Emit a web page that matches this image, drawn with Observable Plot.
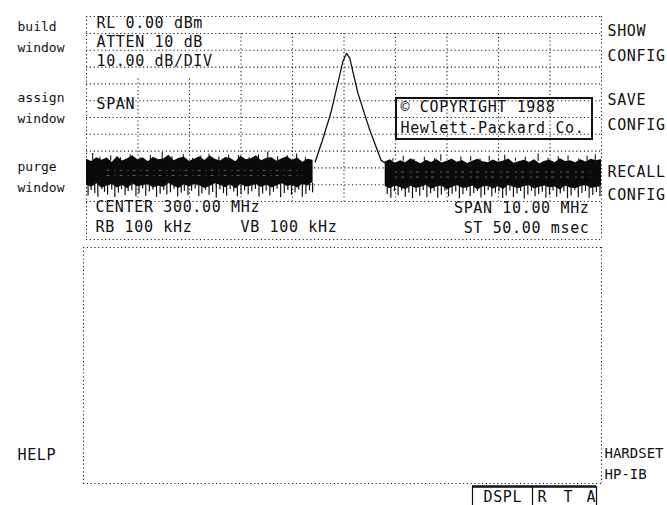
<!DOCTYPE html>
<html>
<head>
<meta charset="utf-8">
<script src="https://cdn.jsdelivr.net/npm/d3@7"></script>
<script src="https://cdn.jsdelivr.net/npm/@observablehq/plot@0.6"></script>
<style>
  html, body { margin: 0; padding: 0; background: #fff; }
  #chart { width: 667px; height: 505px; overflow: hidden; }
  #chart svg g[font-size="15"] text { letter-spacing: 0.65px; }
</style>
</head>
<body>
<div id="chart"></div>
<script>
// ---------------- instrument settings / graticule ----------------
const freqTicks  = [295, 296, 297, 298, 299, 300, 301, 302, 303, 304, 305];   // MHz (CENTER 300, SPAN 10)
const levelTicks = [0, -10, -20, -30, -40, -50, -60, -70, -80, -90, -100];      // dBm (RL 0, 10 dB/div)

// ---------------- signal response (MHz, dBm) ----------------
const peakFreq  = [299.44, 299.58, 299.74, 299.90, 299.98, 300.05, 300.11, 300.27, 300.50, 300.72, 300.80];
const peakLevel = [-76.5, -63.7, -47.8, -27.0, -16.5, -11.8, -14.5, -35.5, -57.5, -75.5, -77.0];

// ---------------- noise floor envelopes ----------------
const noiseLeftFreq = d3.range(295, 299.45, 0.1);
const noiseLeftTop = [-74.8,-76.2,-73.9,-75.5,-74.1,-76.8,-73.2,-75.9,-74.6,-72.8,
  -75.3,-74.0,-76.4,-73.6,-75.1,-74.7,-72.5,-75.8,-74.3,-73.7,
  -76.1,-74.9,-73.4,-75.6,-72.9,-74.8,-75.9,-73.8,-74.4,-76.3,
  -73.1,-75.2,-74.6,-72.7,-75.7,-74.2,-73.9,-76.0,-74.5,-73.3,
  -75.4,-74.1,-76.6,-74.8,-75.5];
const noiseLeftBottom = [-90.2,-91.5,-89.4,-92.1,-90.8,-89.7,-91.9,-90.3,-92.4,-89.6,
  -91.2,-90.5,-89.9,-92.0,-90.7,-91.6,-89.3,-90.9,-92.3,-90.1,
  -91.4,-89.8,-90.6,-92.2,-91.0,-89.5,-90.4,-91.8,-90.0,-92.5,
  -89.7,-91.3,-90.8,-89.9,-91.7,-90.2,-92.0,-90.6,-89.4,-91.1,
  -90.3,-91.9,-89.8,-90.7,-88.5];
const noiseRightFreq = d3.range(300.8, 305.05, 0.1);
const noiseRightTop = [-76.5,-75.2,-77.3,-75.8,-76.9,-74.6,-76.2,-77.6,-75.4,-76.8,
  -75.0,-77.1,-76.0,-74.9,-76.7,-75.6,-77.4,-76.1,-74.8,-76.4,
  -77.0,-75.3,-76.6,-75.9,-74.7,-77.2,-76.3,-75.5,-76.8,-75.1,
  -77.5,-76.0,-75.4,-76.9,-74.5,-76.2,-75.7,-77.0,-75.2,-76.5,
  -74.9,-75.8,-75.0];
const noiseRightBottom = [-91.0,-92.4,-90.6,-91.8,-93.0,-90.9,-92.2,-91.5,-90.3,-92.7,
  -91.3,-90.8,-92.9,-91.6,-90.5,-92.1,-91.9,-90.7,-93.1,-91.4,
  -90.9,-92.5,-91.2,-92.8,-90.4,-91.7,-92.3,-91.0,-90.6,-92.6,
  -91.5,-90.8,-92.0,-91.3,-93.2,-90.7,-91.9,-92.4,-91.1,-90.5,
  -92.2,-91.6,-91.0];

// downward noise spikes [MHz, dBm]
const spikeDownLeft = [
  [295.03,-96.8],[295.09,-93.5],[295.16,-95.2],[295.22,-97.4],[295.30,-92.8],[295.35,-94.6],[295.41,-96.1],[295.49,-93.2],
  [295.55,-97.8],[295.62,-95.0],[295.68,-92.9],[295.75,-96.5],[295.81,-94.1],[295.88,-93.6],[295.96,-97.1],[296.02,-95.4],
  [296.09,-92.6],[296.15,-96.9],[296.22,-94.3],[296.29,-93.1],[296.36,-97.6],[296.43,-95.7],[296.50,-93.4],[296.56,-96.2],
  [296.63,-94.8],[296.70,-92.7],[296.77,-97.3],[296.84,-95.1],[296.90,-93.9],[296.97,-96.6],[297.04,-94.0],[297.11,-92.5],
  [297.18,-97.0],[297.24,-95.6],[297.31,-93.3],[297.38,-96.3],[297.45,-94.7],[297.52,-97.9],[297.59,-93.0],[297.66,-95.3],
  [297.72,-96.8],[297.79,-92.9],[297.86,-94.4],[297.93,-97.2],[298.00,-95.8],[298.07,-93.7],[298.14,-96.0],[298.21,-94.2],
  [298.28,-92.8],[298.35,-97.5],[298.42,-95.5],[298.49,-93.8],[298.56,-96.7],[298.63,-94.5],[298.70,-92.6],[298.77,-97.7],
  [298.84,-95.2],[298.91,-93.5],[298.98,-96.4],[299.05,-94.9],[299.12,-93.1],[299.19,-97.4],[299.26,-95.9],[299.33,-93.6],
  [299.39,-94.8]];
const spikeDownRight = [
  [300.84,-95.9],[300.91,-98.1],[300.98,-94.2],[301.05,-96.6],[301.12,-93.8],[301.19,-97.5],[301.26,-95.0],[301.33,-98.3],
  [301.40,-94.6],[301.47,-96.9],[301.54,-93.5],[301.61,-97.8],[301.68,-95.4],[301.75,-94.0],[301.82,-98.0],[301.89,-96.2],
  [301.96,-93.9],[302.03,-97.2],[302.10,-95.7],[302.17,-94.3],[302.24,-98.4],[302.31,-96.0],[302.38,-93.7],[302.45,-97.0],
  [302.52,-95.3],[302.59,-94.1],[302.66,-97.9],[302.73,-96.4],[302.80,-93.6],[302.87,-97.3],[302.94,-95.1],[303.01,-94.4],
  [303.08,-98.2],[303.15,-96.7],[303.22,-93.8],[303.29,-97.6],[303.36,-95.5],[303.43,-94.0],[303.50,-98.5],[303.57,-96.1],
  [303.64,-93.9],[303.71,-97.1],[303.78,-95.8],[303.85,-94.5],[303.92,-98.0],[303.99,-96.3],[304.06,-93.7],[304.13,-97.4],
  [304.20,-95.6],[304.27,-94.2],[304.34,-98.3],[304.41,-96.8],[304.48,-93.6],[304.55,-97.7],[304.62,-95.2],[304.69,-94.1],
  [304.76,-98.1],[304.83,-96.5],[304.90,-94.7],[304.97,-97.2]];
// upward noise hairs [MHz, dBm]
const spikeUpLeft = [
  [295.12,-71.5],[295.26,-73.6],[295.47,-72.8],[295.66,-74.0],[295.85,-72.3],[296.04,-73.9],[296.24,-72.6],[296.47,-70.8],
  [296.66,-73.4],[296.88,-72.1],[297.06,-74.2],[297.22,-72.9],[297.38,-71.9],[297.57,-73.5],[297.76,-72.4],[297.95,-72.6],
  [298.16,-73.8],[298.34,-72.2],[298.52,-70.5],[298.71,-73.3],[298.90,-72.7],[299.08,-71.7],[299.25,-73.9]];
const spikeUpRight = [
  [300.95,-74.6],[301.15,-73.0],[301.36,-74.9],[301.56,-73.7],[301.76,-74.4],[301.88,-72.1],[302.08,-74.8],[302.27,-73.5],
  [302.46,-73.4],[302.64,-74.7],[302.82,-73.2],[303.00,-74.5],[303.12,-72.4],[303.33,-74.3],[303.52,-73.6],[303.77,-71.8],
  [303.96,-74.2],[304.16,-73.3],[304.35,-72.9],[304.56,-74.6],[304.72,-73.1],[304.88,-72.2]];

// ---------------- screen texts ----------------
const annotTopLeft     = ["RL 0.00 dBm", "ATTEN 10 dB", "10.00 dB/DIV"];
const annotSpan        = ["SPAN"];
const annotBottomLeft  = ["CENTER 300.00 MHz", "RB 100 kHz"];
const annotBottomMid   = ["VB 100 kHz"];
const annotBottomRight = ["SPAN 10.00 MHz", "ST 50.00 msec"];
const copyrightLines   = ["\u00A9 COPYRIGHT 1988", "Hewlett-Packard Co."];
const softkeysLeft     = ["build", "window", "assign", "window", "purge", "window"];
const softkeysRight    = ["SHOW", "CONFIG", "SAVE", "CONFIG", "RECALL", "CONFIG"];
const softkeyHelp      = ["HELP"];
const softkeyHardset   = ["HARDSET", "HP-IB"];
const statusCells      = ["DSPL", "R", "T", "A"];

// ---------------- layout helpers (screen pixel -> display units) ----------------
const X = d3.scaleLinear([86, 601], [295, 305]);
const Y = d3.scaleLinear([33, 201], [0, -100]);

const leftRowsPx   = [26, 47, 97, 118, 166, 187];
const rightRowsPx  = [31, 56, 100, 125, 172, 195];
const statusXPx    = [483, 537, 563, 586];

const ink = "#111";
const dot = {stroke: "#222", strokeWidth: 1.1, strokeDasharray: "1.2,2.6"};

const noiseLeft  = noiseLeftFreq.map((f, i) => ({f, hi: noiseLeftTop[i], lo: noiseLeftBottom[i]}));
const noiseRight = noiseRightFreq.map((f, i) => ({f, hi: noiseRightTop[i], lo: noiseRightBottom[i]}));
const spikesDown = spikeDownLeft.concat(spikeDownRight).map(([f, v]) => ({f, v}));
const spikesUp   = spikeUpLeft.concat(spikeUpRight).map(([f, v]) => ({f, v}));
const peak       = peakFreq.map((f, i) => ({f, v: peakLevel[i]}));

const plot = Plot.plot({
  width: 667,
  height: 505,
  margin: 0,
  x: {domain: [295, 305], range: [86, 601], axis: null},
  y: {domain: [-100, 0], range: [201, 33], axis: null},
  style: {background: "#fff", fontFamily: "'DejaVu Sans Mono', monospace", color: ink, overflow: "visible"},
  marks: [
    // interior vertical graticule
    Plot.ruleX(freqTicks.slice(1, -1), {y1: levelTicks[0], y2: levelTicks[levelTicks.length - 1], ...dot}),
    // annotation block blanks the graticule columns behind it
    Plot.rect([0], {x1: X(87.5), x2: X(226), y1: Y(33), y2: Y(76), fill: "#fff"}),
    // horizontal graticule
    Plot.ruleY(levelTicks, {x1: freqTicks[0], x2: freqTicks[freqTicks.length - 1], ...dot}),
    // upper window frame
    Plot.ruleY([Y(16), Y(239)], {x1: freqTicks[0], x2: freqTicks[freqTicks.length - 1], ...dot}),
    Plot.ruleX([freqTicks[0], freqTicks[freqTicks.length - 1]], {y1: Y(16), y2: Y(239), ...dot}),
    // lower (empty) window frame
    Plot.ruleY([Y(247), Y(483)], {x1: X(83), x2: X(601), ...dot}),
    Plot.ruleX([X(83), X(601)], {y1: Y(247), y2: Y(483), ...dot}),

    // copyright box
    Plot.rect([0], {x1: X(396), x2: X(592), y1: Y(98), y2: Y(139), fill: "none", stroke: ink, strokeWidth: 2}),

    // noise floor
    Plot.areaY(noiseLeft, {x: "f", y1: "lo", y2: "hi", fill: "#0a0a0a"}),
    Plot.areaY(noiseRight, {x: "f", y1: "lo", y2: "hi", fill: "#0a0a0a"}),
    Plot.ruleX(spikesDown, {x: "f", y1: -89, y2: "v", stroke: ink, strokeWidth: 1.2}),
    Plot.ruleX(spikesUp, {x: "f", y1: -76, y2: "v", stroke: ink, strokeWidth: 1.1}),
    // faint mottling inside the dense band
    Plot.ruleY([-81.5, -84.5], {x1: 295.4, x2: 299.2, stroke: "#fff", strokeOpacity: 0.35, strokeWidth: 1, strokeDasharray: "3,5,1,4"}),
    Plot.ruleY([-82.5, -85.5], {x1: 301.0, x2: 304.8, stroke: "#fff", strokeOpacity: 0.35, strokeWidth: 1, strokeDasharray: "2,4,3,6"}),
    // signal
    Plot.line(peak, {x: "f", y: "v", stroke: ink, strokeWidth: 1.3}),

    // annotations inside the graticule
    Plot.text(annotTopLeft, {x: X(96), y: (d, i) => Y([23, 42, 61][i]), text: d => d, textAnchor: "start", fontSize: 15, fill: ink}),
    Plot.text(annotSpan, {x: X(96), y: Y(104), text: d => d, textAnchor: "start", fontSize: 15, fill: ink}),
    Plot.text(annotBottomLeft, {x: X(95), y: (d, i) => Y([207, 227][i]), text: d => d, textAnchor: "start", fontSize: 15, fill: ink}),
    Plot.text(annotBottomMid, {x: X(240), y: Y(227), text: d => d, textAnchor: "start", fontSize: 15, fill: ink}),
    Plot.text(annotBottomRight, {x: X(589), y: (d, i) => Y([208, 228][i]), text: d => d, textAnchor: "end", fontSize: 15, fill: ink}),
    Plot.text(copyrightLines, {x: X(400), y: (d, i) => Y([107, 128][i]), text: d => d, textAnchor: "start", fontSize: 15, fill: ink}),

    // softkey labels
    Plot.text(softkeysLeft, {x: X(17), y: (d, i) => Y(leftRowsPx[i]), text: d => d, textAnchor: "start", fontSize: 13, fill: ink}),
    Plot.text(softkeyHelp, {x: X(17), y: Y(455), text: d => d, textAnchor: "start", fontSize: 15, fill: ink}),
    Plot.text(softkeysRight, {x: X(607), y: (d, i) => Y(rightRowsPx[i]), text: d => d, textAnchor: "start", fontSize: 15, fill: ink}),
    Plot.text(softkeyHardset, {x: X(604), y: (d, i) => Y([453, 474][i]), text: d => d, textAnchor: "start", fontSize: 14, fill: ink}),

    // status box
    Plot.ruleY([Y(486)], {x1: X(472), x2: X(596), stroke: ink, strokeWidth: 2.4}),
    Plot.ruleX([X(472), X(532), X(596)], {y1: Y(486), y2: Y(506), stroke: ink, strokeWidth: 1.2}),
    Plot.text(statusCells, {x: (d, i) => X(statusXPx[i]), y: Y(497), text: d => d, textAnchor: "start", fontSize: 15, fill: ink})
  ]
});

document.getElementById("chart").appendChild(plot);
</script>
</body>
</html>
